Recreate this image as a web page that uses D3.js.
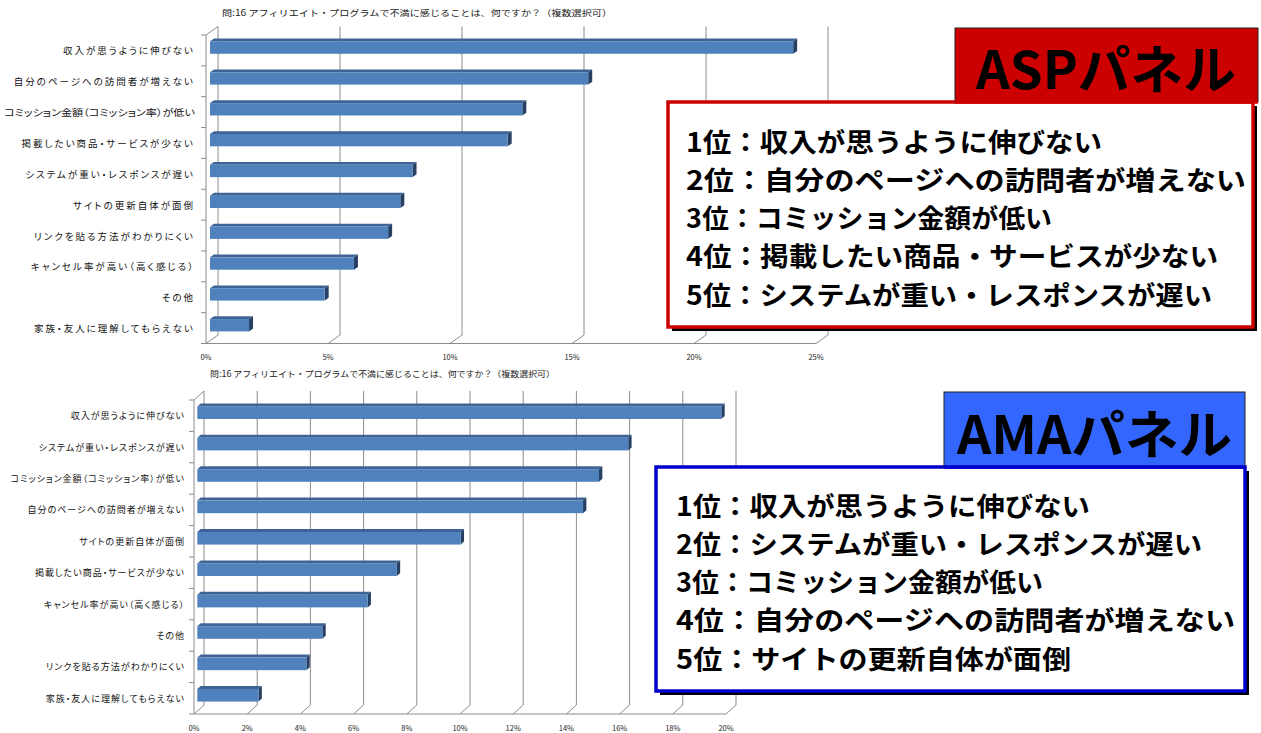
<!DOCTYPE html>
<html>
<head>
<meta charset="utf-8">
<script src="https://cdn.jsdelivr.net/npm/d3@7/dist/d3.min.js"></script>
<style>
  body { margin: 0; background: #fff; }
  svg { display: block; font-family: "Noto Sans CJK JP", "Noto Sans", sans-serif; }
</style>
</head>
<body>
<div id="chart"></div>
<script>
"use strict";

// == data ==
var chartTitle = "問:16 アフィリエイト・プログラムで不満に感じることは、何ですか？（複数選択可）";

var aspCategories = ["収入が思うように伸びない", "自分のページへの訪問者が増えない", "コミッション金額（コミッション率）が低い",
  "掲載したい商品・サービスが少ない", "システムが重い・レスポンスが遅い", "サイトの更新自体が面倒",
  "リンクを貼る方法がわかりにくい", "キャンセル率が高い（高く感じる）", "その他", "家族・友人に理解してもらえない"];
var aspValues = [23.9, 15.5, 12.8, 12.2, 8.3, 7.8, 7.3, 5.9, 4.7, 1.6];
var aspTicks = [0, 5, 10, 15, 20, 25];

var amaCategories = ["収入が思うように伸びない", "システムが重い・レスポンスが遅い", "コミッション金額（コミッション率）が低い",
  "自分のページへの訪問者が増えない", "サイトの更新自体が面倒", "掲載したい商品・サービスが少ない",
  "キャンセル率が高い（高く感じる）", "その他", "リンクを貼る方法がわかりにくい", "家族・友人に理解してもらえない"];
var amaValues = [19.7, 16.2, 15.1, 14.5, 9.9, 7.5, 6.4, 4.7, 4.1, 2.3];
var amaTicks = [0, 2, 4, 6, 8, 10, 12, 14, 16, 18, 20];

var aspTitle = "ASPパネル";
var aspRanking = ["1位：収入が思うように伸びない", "2位：自分のページへの訪問者が増えない", "3位：コミッション金額が低い",
  "4位：掲載したい商品・サービスが少ない", "5位：システムが重い・レスポンスが遅い"];
var amaTitle = "AMAパネル";
var amaRanking = ["1位：収入が思うように伸びない", "2位：システムが重い・レスポンスが遅い", "3位：コミッション金額が低い",
  "4位：自分のページへの訪問者が増えない", "5位：サイトの更新自体が面倒"];

var W = 1261, H = 733;
var svg = d3.select("#chart").append("svg")
  .attr("width", W).attr("height", H);

var gridColor = "#8c8c8c";

// draws one 3D-looking horizontal bar chart
var drawChart = function(cfg) {
  var g = svg.append("g");
  var dx = cfg.dx, dy = cfg.dy;

  var x = d3.scaleLinear()
    .domain([0, d3.max(cfg.ticks)])
    .range([cfg.x0, cfg.x1]);
  var y = d3.scaleBand()
    .domain(cfg.categories)
    .range([cfg.yTop, cfg.yBottom]);

  // back wall gridlines
  g.selectAll(".grid").data(cfg.ticks).enter().append("line")
    .attr("x1", function(d) { return x(d) + dx; })
    .attr("x2", function(d) { return x(d) + dx; })
    .attr("y1", cfg.yTop + dy)
    .attr("y2", cfg.yBottom + dy)
    .attr("stroke", gridColor).attr("stroke-width", 1);

  // floor diagonals
  g.selectAll(".floor").data(cfg.ticks).enter().append("line")
    .attr("x1", function(d) { return x(d); })
    .attr("x2", function(d) { return x(d) + dx; })
    .attr("y1", cfg.yBottom)
    .attr("y2", cfg.yBottom + dy)
    .attr("stroke", gridColor).attr("stroke-width", 1);

  // left wall top edge
  g.append("line")
    .attr("x1", x(0)).attr("y1", cfg.yTop)
    .attr("x2", x(0) + dx).attr("y2", cfg.yTop + dy)
    .attr("stroke", gridColor);

  // front axes
  g.append("line")
    .attr("x1", x(0)).attr("x2", x(0))
    .attr("y1", cfg.yTop).attr("y2", cfg.yBottom)
    .attr("stroke", gridColor);
  g.append("line")
    .attr("x1", x(0)).attr("x2", x(d3.max(cfg.ticks)))
    .attr("y1", cfg.yBottom).attr("y2", cfg.yBottom)
    .attr("stroke", gridColor);

  // category tick marks
  var bounds = cfg.categories.map(function(c) { return y(c); }).concat([cfg.yBottom]);
  g.selectAll(".ytick").data(bounds).enter().append("line")
    .attr("x1", x(0) - 5).attr("x2", x(0))
    .attr("y1", function(d) { return d; })
    .attr("y2", function(d) { return d; })
    .attr("stroke", gridColor);

  // x tick labels
  g.selectAll(".xlab").data(cfg.ticks).enter().append("text")
    .attr("x", function(d) { return x(d); })
    .attr("y", cfg.yBottom + 13)
    .attr("text-anchor", "middle")
    .attr("dominant-baseline", "central")
    .style("font-size", "7.5px")
    .style("fill", "#222")
    .text(function(d) { return d + "%"; });

  // bars
  var bdx = dx / 3, bdy = dy / 3;
  var bh = y.bandwidth() * 0.4;
  var rows = cfg.categories.map(function(c, i) { return { cat: c, val: cfg.values[i] }; });
  var bars = g.selectAll(".bar").data(rows).enter().append("g");

  bars.append("polygon") // top face
    .attr("points", function(d) {
      var xl = x(0) + bdx, xr = x(d.val) + bdx;
      var yt = y(d.cat) + y.bandwidth() / 2 + bdy - bh / 2;
      return [[xl, yt], [xr, yt], [xr + bdx, yt + bdy], [xl + bdx, yt + bdy]].join(" ");
    })
    .attr("fill", "#3e6496");
  bars.append("polygon") // end face
    .attr("points", function(d) {
      var xr = x(d.val) + bdx;
      var yt = y(d.cat) + y.bandwidth() / 2 + bdy - bh / 2;
      return [[xr, yt], [xr + bdx, yt + bdy], [xr + bdx, yt + bdy + bh], [xr, yt + bh]].join(" ");
    })
    .attr("fill", "#263f63");
  bars.append("rect") // front face
    .attr("x", x(0) + bdx)
    .attr("y", function(d) { return y(d.cat) + y.bandwidth() / 2 + bdy - bh / 2; })
    .attr("width", function(d) { return x(d.val) - x(0); })
    .attr("height", bh)
    .attr("fill", "#4f81bd");

  // category labels (squeezed if they would run off the left edge)
  g.selectAll(".ylab").data(cfg.categories).enter().append("text")
    .attr("x", cfg.labelX)
    .attr("y", function(d) { return y(d) + y.bandwidth() / 2; })
    .attr("text-anchor", "end")
    .attr("dominant-baseline", "central")
    .style("font-size", cfg.labelSize + "px")
    .style("letter-spacing", cfg.labelSpacing + "px")
    .style("font-feature-settings", "'palt'")
    .style("fill", "#111")
    .text(function(d) { return d; })
    .each(function() {
      var maxW = cfg.labelX - 4;
      if (this.getComputedTextLength() > maxW) {
        d3.select(this).style("letter-spacing", null)
          .attr("textLength", maxW).attr("lengthAdjust", "spacingAndGlyphs");
      }
    });

  // chart title
  g.append("text")
    .attr("x", cfg.titleX).attr("y", cfg.titleY)
    .attr("dominant-baseline", "central")
    .attr("textLength", cfg.titleW)
    .attr("lengthAdjust", "spacingAndGlyphs")
    .style("font-size", "8.5px")
    .style("fill", "#222")
    .text(chartTitle);
};

drawChart({
  categories: aspCategories, values: aspValues, ticks: aspTicks,
  x0: 206, x1: 816, yTop: 35, yBottom: 343.5, dx: 12, dy: -8.5,
  labelX: 195, labelSize: 9.5, labelSpacing: 2,
  titleX: 222, titleY: 12, titleW: 390
});
drawChart({
  categories: amaCategories, values: amaValues, ticks: amaTicks,
  x0: 194, x1: 726, yTop: 400, yBottom: 714, dx: 10, dy: -9,
  labelX: 185, labelSize: 9, labelSpacing: 1,
  titleX: 210, titleY: 373, titleW: 345
});

// ranking panels
var drawPanel = function(p) {
  var g = svg.append("g");
  // shadow + list box
  g.append("rect")
    .attr("x", p.box[0] + 4).attr("y", p.box[1] + 4)
    .attr("width", p.box[2]).attr("height", p.box[3])
    .attr("fill", "#000");
  g.append("rect")
    .attr("x", p.box[0]).attr("y", p.box[1])
    .attr("width", p.box[2]).attr("height", p.box[3])
    .attr("fill", "#fff")
    .attr("stroke", p.border).attr("stroke-width", 3.5);
  // header
  g.append("rect")
    .attr("x", p.head[0]).attr("y", p.head[1])
    .attr("width", p.head[2]).attr("height", p.head[3])
    .attr("fill", p.fill)
    .attr("stroke", "#222").attr("stroke-width", 1);
  g.append("line")
    .attr("x1", p.head[0]).attr("x2", p.head[0] + p.head[2])
    .attr("y1", p.box[1]).attr("y2", p.box[1])
    .attr("stroke", p.border).attr("stroke-width", 3.5);
  g.append("text")
    .attr("x", p.headText[0]).attr("y", p.headText[1])
    .attr("dominant-baseline", "central")
    .attr("textLength", p.headText[2])
    .attr("lengthAdjust", "spacingAndGlyphs")
    .style("font-size", "52px").style("font-weight", 700)
    .style("fill", "#000")
    .text(p.title);
  g.selectAll(".rank").data(p.lines).enter().append("text")
    .attr("x", p.textX)
    .attr("y", function(d, i) { return p.textY + i * 38.3; })
    .attr("dominant-baseline", "central")
    .attr("textLength", function(d, i) { return p.widths[i]; })
    .attr("lengthAdjust", "spacingAndGlyphs")
    .style("font-size", "26.5px").style("font-weight", 700)
    .style("fill", "#000")
    .text(function(d) { return d; });
};

drawPanel({
  title: aspTitle, lines: aspRanking,
  box: [668, 102, 585, 225], head: [955, 28, 303, 74],
  fill: "#cc0000", border: "#cc0000",
  headText: [976, 66, 260],
  textX: 686, textY: 140, widths: [416, 560, 366, 532, 526]
});
drawPanel({
  title: amaTitle, lines: amaRanking,
  box: [656, 467, 589, 224], head: [944, 392, 301, 75],
  fill: "#3366ff", border: "#0000cc",
  headText: [957, 431, 275],
  textX: 676, textY: 504, widths: [414, 526, 367, 559, 395]
});
</script>
</body>
</html>
